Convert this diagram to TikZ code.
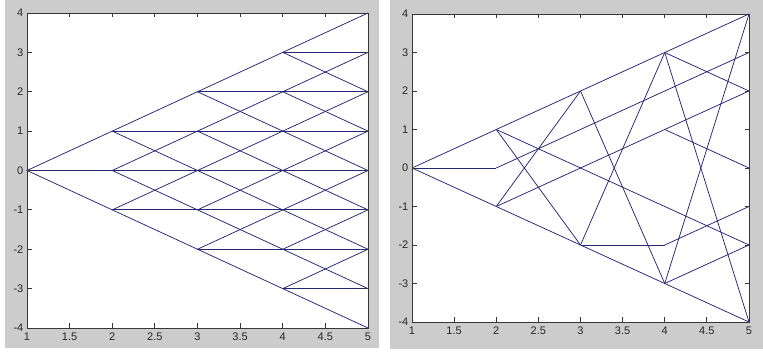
\documentclass[tikz,border=0pt]{standalone}
\usepackage{fontspec}
\setmainfont{Liberation Sans}
\definecolor{figgray}{RGB}{204,204,204}
\definecolor{mblue}{RGB}{38,38,118}
\definecolor{axgray}{RGB}{55,55,55}

\begin{document}
\begin{tikzpicture}[x=1pt, y=1pt,
  branch/.style={mblue, line width=0.75pt},
  axisbox/.style={axgray, line width=0.8pt},
  ticklab/.style={font=\fontsize{11}{13}\selectfont, text=black!85, inner sep=1.5pt}]
  \useasboundingbox (0,0) rectangle (763,353);
  \fill[white] (0,0) rectangle (763,353);
  % 两块灰色底
  \fill[figgray] (5,5) rectangle (379,353);
  \fill[figgray] (390,4) rectangle (763,353);

  % 左图：重合的三叉树
  \begin{scope}[x=85.25pt, y=39.375pt, shift={(-58.25pt,182.5pt)}]
    \fill[white] (1,-4) rectangle (5,4);
    % 格点 L-t-j，j = k+4
    \foreach \t in {1,...,5} {
      \pgfmathtruncatemacro\lo{5-\t}
      \pgfmathtruncatemacro\hi{3+\t}
      \foreach \j in {\lo,...,\hi}
        \coordinate (L-\t-\j) at (\t,\j-4);
    }
    % 每个点连向上、平、下三个点
    \foreach \t in {1,...,4} {
      \pgfmathtruncatemacro\u{\t+1}
      \pgfmathtruncatemacro\lo{5-\t}
      \pgfmathtruncatemacro\hi{3+\t}
      \foreach \j in {\lo,...,\hi} {
        \pgfmathtruncatemacro\jp{\j+1}
        \pgfmathtruncatemacro\jm{\j-1}
        \draw[branch] (L-\u-\jp) -- (L-\t-\j) -- (L-\u-\jm);
        \draw[branch] (L-\t-\j) -- (L-\u-\j);
      }
    }
    % 坐标轴
    \draw[axisbox] (1,-4) rectangle (5,4);
    \foreach \x [count=\i] in {1,1.5,2,2.5,3,3.5,4,4.5,5} {
      \draw[axisbox] (\x,-4) -- ++(0,4.5pt);
      \draw[axisbox] (\x,4) -- ++(0,-4.5pt);
      \node[ticklab, anchor=north, yshift=-3pt] (Lx\i) at (\x,-4) {\x};
    }
    \foreach \y in {-4,...,4} {
      \draw[axisbox] (1,\y) -- ++(4.5pt,0);
      \draw[axisbox] (5,\y) -- ++(-4.5pt,0);
      \node[ticklab, anchor=east, xshift=-2pt] (Ly\y) at (1,\y) {\y};
    }
  \end{scope}

  % 右图：不重合的分支
  \begin{scope}[x=84.25pt, y=38.5pt, shift={(327.75pt,185pt)}]
    \fill[white] (1,-4) rectangle (5,4);
    \foreach \t in {1,...,5}
      \foreach \j in {0,...,8}
        \coordinate (R-\t-\j) at (\t,\j-4);
    \foreach \a/\b in {1-4/2-5, 2-5/3-6, 3-6/4-7, 4-7/5-8,
                       1-4/2-3, 2-3/3-2, 3-2/4-1, 4-1/5-0,
                       1-4/2-4, 2-4/5-7, 2-3/5-6, 2-3/3-6,
                       2-5/3-2, 2-5/5-2, 3-6/4-1, 3-2/4-7,
                       3-2/4-2, 4-2/5-3, 4-7/5-6, 4-7/5-0,
                       4-1/5-8, 4-1/5-2, 4-5/5-4}
      \draw[branch] (R-\a) -- (R-\b);
    % 坐标轴
    \draw[axisbox] (1,-4) rectangle (5,4);
    \foreach \x [count=\i] in {1,1.5,2,2.5,3,3.5,4,4.5,5} {
      \draw[axisbox] (\x,-4) -- ++(0,4.5pt);
      \draw[axisbox] (\x,4) -- ++(0,-4.5pt);
      \node[ticklab, anchor=north, yshift=-3pt] (Rx\i) at (\x,-4) {\x};
    }
    \foreach \y in {-4,...,4} {
      \draw[axisbox] (1,\y) -- ++(4.5pt,0);
      \draw[axisbox] (5,\y) -- ++(-4.5pt,0);
      \node[ticklab, anchor=east, xshift=-2pt] (Ry\y) at (1,\y) {\y};
    }
  \end{scope}
\end{tikzpicture}
\end{document}
